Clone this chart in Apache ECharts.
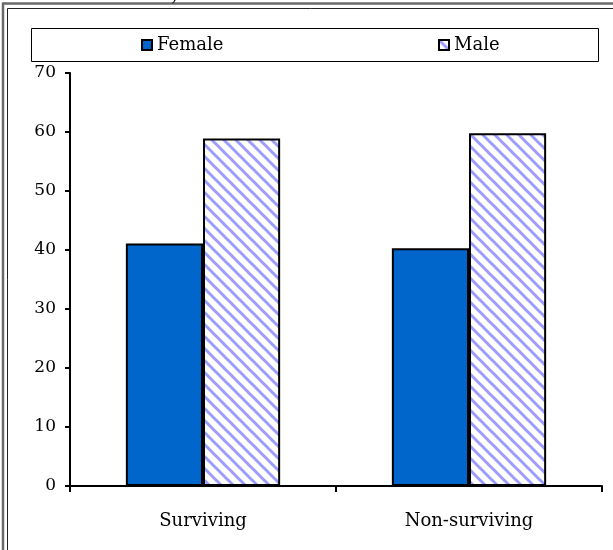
<!DOCTYPE html>
<html>
<head>
<meta charset="utf-8">
<script src="https://cdn.jsdelivr.net/npm/echarts@6/dist/echarts.min.js"></script>
<style>
  html, body { margin: 0; padding: 0; background: #fff; }
  #chart { width: 613px; height: 550px; }
</style>
</head>
<body>
<div id="chart"></div>
<script>
// Share of each sex within the surviving and non-surviving groups (%)
const categories = ['Surviving', 'Non-surviving'];
const femaleValues = [41.1, 40.3];
const maleValues = [58.9, 59.8];
const yTicks = { min: 0, max: 70, step: 10 };

const FONT = '"DejaVu Serif", "Liberation Serif", serif';

// Diagonal hatch used for the Male bars
function hatchPattern() {
  const s = 12;
  const c = document.createElement('canvas');
  c.width = s; c.height = s;
  const g = c.getContext('2d');
  g.fillStyle = '#ffffff';
  g.fillRect(0, 0, s, s);
  g.strokeStyle = '#9d9dff';
  g.lineWidth = 3;
  g.lineCap = 'square';
  for (const x0 of [-s, 0, s]) {
    g.beginPath();
    g.moveTo(x0, 0);
    g.lineTo(x0 + s, s);
    g.stroke();
  }
  return { image: c, repeat: 'repeat' };
}
const hatch = hatchPattern();

const legendText = { fontFamily: FONT, fontSize: 18, color: '#000' };
const legendMark = { borderColor: '#000', borderWidth: 2 };

const chart = echarts.init(document.getElementById('chart'), null, { renderer: 'canvas' });

chart.setOption({
  animation: false,
  backgroundColor: '#ffffff',
  textStyle: { fontFamily: FONT },
  grid: { left: 70, right: 11, top: 73, bottom: 64, containLabel: false },
  legend: [
    {
      data: ['Female'],
      left: 141, top: 36, padding: 0,
      icon: 'rect', itemWidth: 10, itemHeight: 10, itemGap: 0,
      textStyle: legendText, itemStyle: legendMark
    },
    {
      data: ['Male'],
      left: 438, top: 36, padding: 0,
      icon: 'rect', itemWidth: 10, itemHeight: 10, itemGap: 0,
      textStyle: legendText, itemStyle: legendMark
    }
  ],
  xAxis: {
    type: 'category',
    data: categories,
    boundaryGap: true,
    axisLine: { lineStyle: { color: '#000', width: 2 } },
    axisTick: { show: true, length: 6, lineStyle: { color: '#000', width: 2 } },
    axisLabel: { color: '#000', fontFamily: FONT, fontSize: 18, margin: 26 },
    splitLine: { show: false }
  },
  yAxis: {
    type: 'value',
    min: yTicks.min, max: yTicks.max, interval: yTicks.step,
    axisLine: { show: true, lineStyle: { color: '#000', width: 2 } },
    axisTick: { show: true, length: 5, lineStyle: { color: '#000', width: 2 } },
    axisLabel: { color: '#000', fontFamily: FONT, fontSize: 17, margin: 14 },
    splitLine: { show: false }
  },
  series: [
    {
      name: 'Female',
      type: 'bar',
      data: femaleValues,
      barWidth: '29%',
      barGap: '0%',
      itemStyle: { color: '#0066cc', borderColor: '#000', borderWidth: 2 }
    },
    {
      name: 'Male',
      type: 'bar',
      data: maleValues,
      barWidth: '29%',
      barGap: '0%',
      itemStyle: { color: hatch, borderColor: '#000', borderWidth: 2 }
    }
  ],
  graphic: [
    // double frame around the figure
    { type: 'rect', silent: true, shape: { x: 3, y: 3.5, width: 700, height: 700 },
      style: { fill: null, stroke: '#6a6a6a', lineWidth: 2.5 } },
    { type: 'rect', silent: true, shape: { x: 7.5, y: 8.5, width: 700, height: 700 },
      style: { fill: null, stroke: '#222', lineWidth: 1 } },
    // legend box
    { type: 'rect', silent: true, shape: { x: 31.5, y: 28.5, width: 567, height: 33 },
      style: { fill: null, stroke: '#000', lineWidth: 1 } },
    // tail of the caption above the frame
    { type: 'text', silent: true, left: 171, top: -12,
      style: { text: ')', font: '17px ' + FONT, fill: '#000' } }
  ]
});
</script>
</body>
</html>
